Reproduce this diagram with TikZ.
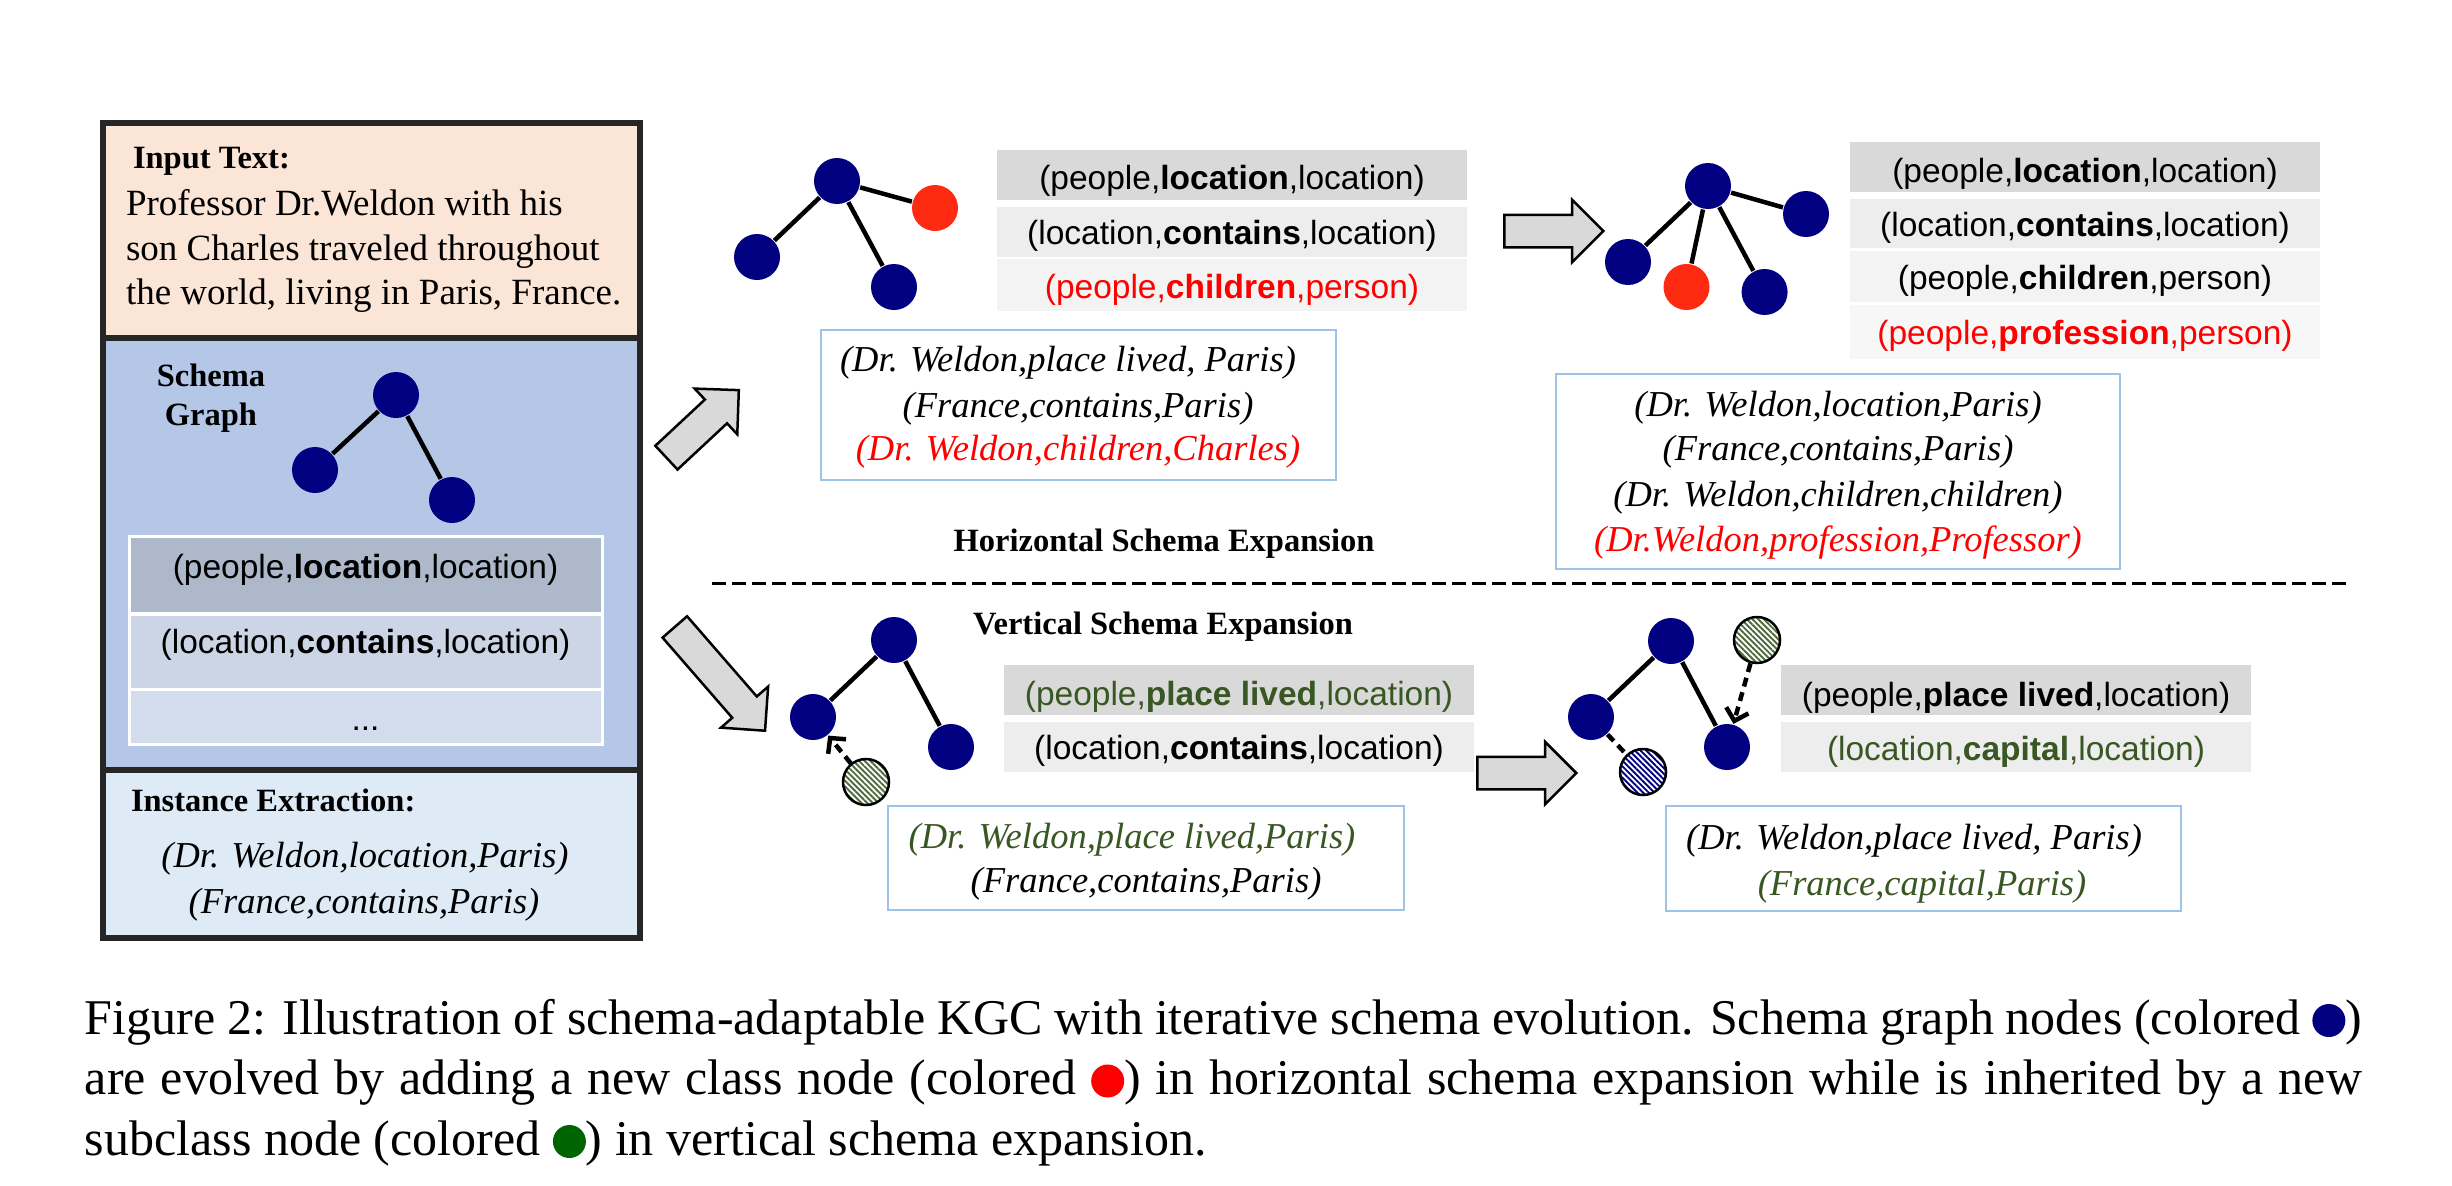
\documentclass[tikz,border=0pt]{standalone}
\usepackage{fontspec}
\setmainfont{Liberation Serif}
\setsansfont{Liberation Sans}
\usetikzlibrary{shapes.arrows,arrows.meta,patterns.meta}
\definecolor{navyn}{HTML}{000080}
\definecolor{rednode}{HTML}{FF2A12}
\definecolor{dgreen}{HTML}{385723}
\definecolor{peach}{HTML}{FBE5D6}
\definecolor{sblue}{HTML}{B4C7E7}
\definecolor{iblue}{HTML}{DEEBF7}
\definecolor{lrowa}{HTML}{ADB9CA}
\definecolor{lrowb}{HTML}{CBD5E6}
\definecolor{lrowc}{HTML}{D3DCEC}
\definecolor{ga}{HTML}{D9D9D9}
\definecolor{gb}{HTML}{EDEDED}
\definecolor{gc}{HTML}{F3F3F3}
\definecolor{gd}{HTML}{F7F7F7}
\definecolor{bxb}{HTML}{9DC3E6}
\definecolor{hgreen}{HTML}{4F6B3C}
\definecolor{capgreen}{HTML}{006400}
\definecolor{darkframe}{HTML}{262626}
\newcommand{\capdot}[1]{\tikz[baseline={(0,-2.7pt)}]\fill[#1] (0,0) circle (3.3pt);}
\begin{document}
\begin{tikzpicture}[x=0.2pt,y=-0.2pt,
  gnode/.style={circle, fill=navyn, minimum size=9.2pt, inner sep=0pt},
  rnode/.style={gnode, fill=rednode},
  hatchn/.style={circle, minimum size=9.2pt, inner sep=0pt, draw=black, line width=0.5pt,
     preaction={fill=white}, pattern={Lines[angle=-45,distance=0.8pt,line width=0.38pt]}},
  ghatch/.style={hatchn, pattern color=hgreen},
  bhatch/.style={hatchn, pattern color=navyn},
  edge/.style={line width=0.9pt, draw=black},
  dedge/.style={edge, dash pattern=on 1.8pt off 1.2pt},
  barb/.style={-{Straight Barb[length=2.2pt,width=4.6pt]}},
  blk/.style={single arrow, draw=black, line width=0.5pt, fill=ga, inner sep=3pt,
     single arrow head extend=3pt, single arrow tip angle=90, minimum height=19.8pt},
  hd/.style={font=\bfseries\fontsize{6.5}{8}\selectfont, inner sep=0pt},
  bodyt/.style={font=\fontsize{7.4}{9}\selectfont, inner sep=0pt},
  itt/.style={font=\itshape\fontsize{7.3}{9}\selectfont, inner sep=0pt},
  sft/.style={font=\sffamily\fontsize{6.7}{8}\selectfont, inner sep=0pt},
  rowcell/.style={draw=white, line width=0.5pt},
  tbox/.style={draw=bxb, line width=0.55pt, fill=white}
]
\useasboundingbox (0,0) rectangle (2452,1186);

% ---------------- left panel ----------------
\fill[peach] (103,123) rectangle (640,338);
\fill[sblue] (103,338) rectangle (640,770);
\fill[iblue] (103,770) rectangle (640,938);
\draw[darkframe, line width=1.1pt] (103,123) rectangle (640,938);
\draw[darkframe, line width=1.1pt] (103,338) -- (640,338);
\draw[darkframe, line width=1.1pt] (103,770) -- (640,770);

\node[hd, anchor=base west] (intitle) at (132,168) {Input Text:};
\node[bodyt, anchor=base west] (inl1) at (125,215.6) {Professor Dr.Weldon with his};
\node[bodyt, anchor=base west] (inl2) at (125,260) {son Charles traveled throughout};
\node[bodyt, anchor=base west] (inl3) at (125,304.7) {the world, living in Paris, France.};

\node[hd, anchor=base] (sg1) at (211,386) {Schema};
\node[hd, anchor=base] (sg2) at (211,425) {Graph};

\node[gnode] (la) at (396,395) {};
\node[gnode] (lb) at (315,470) {};
\node[gnode] (lc) at (452,500) {};
\draw[edge] (la) -- (lb);
\draw[edge] (la) -- (lc);

\fill[lrowa, rowcell] (129,536) rectangle (602,613);
\fill[lrowb, rowcell] (129,615) rectangle (602,689);
\fill[lrowc, rowcell] (129,690) rectangle (602,744);
\draw[white, line width=0.6pt] (129,536) rectangle (602,744);
\node[sft, anchor=base] (lr1) at (365.5,578) {(people,\textbf{location},location)};
\node[sft, anchor=base] (lr2) at (365.5,653) {(location,\textbf{contains},location)};
\node[sft, anchor=base] (lr3) at (365.5,730) {...};

\node[hd, anchor=base west] (ietitle) at (130,811) {Instance Extraction:};
\node[itt, anchor=base] (ie1) at (365,867) {(Dr. Weldon,location,Paris)};
\node[itt, anchor=base] (ie2) at (364,913) {(France,contains,Paris)};

% ---------------- block arrows ----------------
\node[blk, rotate=43, anchor=tail] (arup) at (665.5,458.5) {};
\node[blk, rotate=-49, anchor=tail, minimum height=27.5pt] (ardown) at (674,626) {};
\node[blk, anchor=tail] (arh) at (1503,231) {};
\node[blk, anchor=tail] (arv) at (1476,773) {};

% ---------------- horizontal step 1 ----------------
\node[gnode] (ha) at (837,181) {};
\node[gnode] (hb) at (757,257) {};
\node[gnode] (hc) at (894,287) {};
\node[rnode] (hr) at (935,208) {};
\draw[edge] (ha) -- (hb);
\draw[edge] (ha) -- (hc);
\draw[edge] (ha) -- (hr);

\fill[ga] (997,150) rectangle (1467,200);
\fill[gb] (997,207) rectangle (1467,257);
\fill[gc] (997,259) rectangle (1467,311);
\node[sft, anchor=base] (t1r1) at (1232,189) {(people,\textbf{location},location)};
\node[sft, anchor=base] (t1r2) at (1232,244) {(location,\textbf{contains},location)};
\node[sft, anchor=base, text=red] (t1r3) at (1232,298) {(people,\textbf{children},person)};

\draw[tbox] (821,330) rectangle (1336,480);
\node[itt, anchor=base] (b1l1) at (1068,371) {(Dr. Weldon,place lived, Paris)};
\node[itt, anchor=base] (b1l2) at (1078,417) {(France,contains,Paris)};
\node[itt, anchor=base, text=red] (b1l3) at (1078,460) {(Dr. Weldon,children,Charles)};

% ---------------- horizontal step 2 ----------------
\node[gnode] (ka) at (1708,186) {};
\node[gnode] (kb) at (1628,262) {};
\node[rnode] (kr) at (1686.5,287) {};
\node[gnode] (kc) at (1764.6,292) {};
\node[gnode] (kd) at (1806,214) {};
\draw[edge] (ka) -- (kb);
\draw[edge] (ka) -- (kr);
\draw[edge] (ka) -- (kc);
\draw[edge] (ka) -- (kd);

\fill[ga] (1850,142) rectangle (2320,192);
\fill[gb] (1850,199) rectangle (2320,248);
\fill[gc] (1850,251) rectangle (2320,302);
\fill[gd] (1850,305) rectangle (2320,359);
\node[sft, anchor=base] (t2r1) at (2085,182) {(people,\textbf{location},location)};
\node[sft, anchor=base] (t2r2) at (2085,236) {(location,\textbf{contains},location)};
\node[sft, anchor=base] (t2r3) at (2085,289) {(people,\textbf{children},person)};
\node[sft, anchor=base, text=red] (t2r4) at (2085,344) {(people,\textbf{profession},person)};

\draw[tbox] (1556,374) rectangle (2120,569);
\node[itt, anchor=base] (b2l1) at (1838,416) {(Dr. Weldon,location,Paris)};
\node[itt, anchor=base] (b2l2) at (1838,460.5) {(France,contains,Paris)};
\node[itt, anchor=base] (b2l3) at (1838,506) {(Dr. Weldon,children,children)};
\node[itt, anchor=base, text=red] (b2l4) at (1838,551) {(Dr.Weldon,profession,Professor)};

% ---------------- separator ----------------
\node[hd, anchor=base] (hse) at (1164,551) {Horizontal Schema Expansion};
\draw[black, line width=0.6pt, dash pattern=on 2.8pt off 1.2pt] (712,583) -- (2350,583);
\node[hd, anchor=base] (vse) at (1163,634) {Vertical Schema Expansion};

% ---------------- vertical step 1 ----------------
\node[gnode] (va) at (894,640) {};
\node[gnode] (vb) at (813,717) {};
\node[gnode] (vc) at (951,747) {};
\node[ghatch] (vg) at (866,782) {};
\draw[edge] (va) -- (vb);
\draw[edge] (va) -- (vc);
\draw[dedge, barb] (vg) -- (vb);

\fill[ga] (1004,665) rectangle (1474,715);
\fill[gb] (1004,722) rectangle (1474,772);
\node[sft, anchor=base, text=dgreen] (tv1r1) at (1239,705) {(people,\textbf{place lived},location)};
\node[sft, anchor=base] (tv1r2) at (1239,759) {(location,\textbf{contains},location)};

\draw[tbox] (888,806) rectangle (1404,910);
\node[itt, anchor=base, text=dgreen] (bv1l1) at (1132,848) {(Dr. Weldon,place lived,Paris)};
\node[itt, anchor=base] (bv1l2) at (1146,892) {(France,contains,Paris)};

% ---------------- vertical step 2 ----------------
\node[gnode] (wa) at (1671,641) {};
\node[gnode] (wb) at (1591,717) {};
\node[gnode] (wc) at (1727,747) {};
\node[ghatch] (wg) at (1757,640) {};
\node[bhatch] (wh) at (1643,772) {};
\draw[edge] (wa) -- (wb);
\draw[edge] (wa) -- (wc);
\draw[dedge] (wb) -- (wh);
\draw[dedge, barb] (wg) -- (wc);

\fill[ga] (1781,665) rectangle (2251,715);
\fill[gb] (1781,722) rectangle (2251,772);
\node[sft, anchor=base] (tv2r1) at (2016,706) {(people,\textbf{place lived},location)};
\node[sft, anchor=base, text=dgreen] (tv2r2) at (2016,760) {(location,\textbf{capital},location)};

\draw[tbox] (1666,806) rectangle (2181,911);
\node[itt, anchor=base] (bv2l1) at (1914,849) {(Dr. Weldon,place lived, Paris)};
\node[itt, anchor=base, text=dgreen] (bv2l2) at (1922,895) {(France,capital,Paris)};

% ---------------- caption ----------------
\node[anchor=base west, inner sep=0pt, font=\fontsize{10}{12}\selectfont] (cap1) at (84,1034)
  {\makebox[455.4pt][s]{Figure 2: Illustration of schema-adaptable KGC with iterative schema evolution. Schema graph nodes (colored \capdot{navyn})}};
\node[anchor=base west, inner sep=0pt, font=\fontsize{10}{12}\selectfont] (cap2) at (84,1094.5)
  {\makebox[455.4pt][s]{are evolved by adding a new class node (colored \capdot{red}) in horizontal schema expansion while is inherited by a new}};
\node[anchor=base west, inner sep=0pt, font=\fontsize{10}{12}\selectfont] (cap3) at (84,1155)
  {subclass node (colored \capdot{capgreen}) in vertical schema expansion.};
\end{tikzpicture}
\end{document}
